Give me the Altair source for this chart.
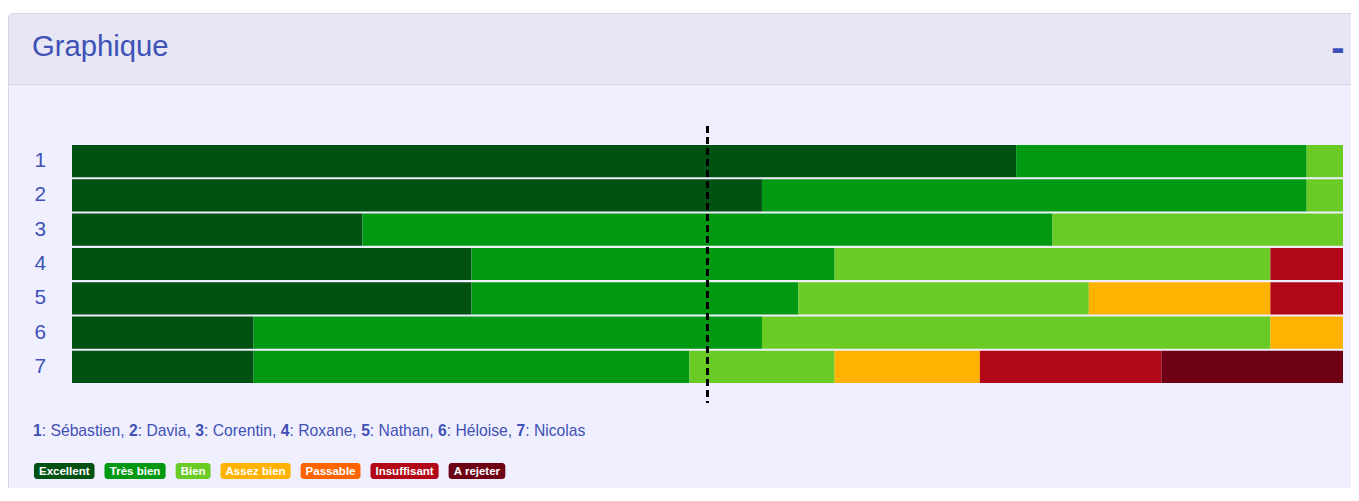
import altair as alt
import pandas as pd

# ---------------- data ----------------
candidates = ["Sébastien", "Davia", "Corentin", "Roxane", "Nathan", "Héloise", "Nicolas"]
grades = ["Excellent", "Très bien", "Bien", "Assez bien", "Passable", "Insuffisant", "A rejeter"]
grade_colors = ["#015113", "#019812", "#6ACB25", "#FFB200", "#FF6400", "#B20717", "#6E0214"]

excellent = [26, 19, 8, 11, 11, 5, 5]
tres_bien = [8, 15, 19, 10, 9, 14, 12]
bien = [1, 1, 8, 12, 8, 14, 4]
assez_bien = [0, 0, 0, 0, 5, 2, 4]
passable = [0, 0, 0, 0, 0, 0, 0]
insuffisant = [0, 0, 0, 2, 2, 0, 5]
a_rejeter = [0, 0, 0, 0, 0, 0, 5]
series = [excellent, tres_bien, bien, assez_bien, passable, insuffisant, a_rejeter]

rows = []
for gi, (g, vals) in enumerate(zip(grades, series)):
    for ci, v in enumerate(vals):
        rows.append({"num": str(ci + 1), "candidat": candidates[ci], "mention": g, "ordre": gi, "votes": v})
df = pd.DataFrame(rows)
total = int(df.groupby("num")["votes"].sum().max())
nums = [str(i + 1) for i in range(len(candidates))]

# ---------------- layout ----------------
FONT = "Liberation Sans"
BLUE = "#3F51B5"
BODY_BG = "#EFEFFF"
HEAD_BG = "#E6E6F5"
BORDER = "#D2D2E2"
PLOT_W, PLOT_H = 1271, 240
PAD_L, PAD_T = 64, 136
TOTAL_W, TOTAL_H = 1343, 480


def px(x):
    return x - 8 - PAD_L


def py(y):
    return y - 8 - PAD_T


REG = {' ': 278, ',': 278, ':': 278, 'S': 667, 'D': 722, 'C': 722, 'R': 722, 'N': 722, 'H': 722,
       'a': 556, 'b': 556, 'c': 500, 'e': 556, 'é': 556, 'h': 556, 'i': 222, 'l': 222, 'n': 556,
       'o': 556, 'r': 333, 's': 500, 't': 278, 'v': 500, 'x': 500}
BOLD = {' ': 278, 'A': 722, 'B': 722, 'E': 667, 'I': 278, 'P': 667, 'T': 611, 'a': 556, 'b': 611,
        'c': 556, 'e': 556, 'è': 556, 'f': 333, 'i': 278, 'j': 278, 'l': 278, 'n': 611, 'r': 389,
        's': 556, 't': 333, 'u': 611, 'x': 556, 'z': 500}


def tw(s, size, table):
    return sum(table.get(ch, 556) for ch in s) * size / 1000.0


one = pd.DataFrame({"k": [0]})


def vrect(x0, x1, y0, y1, **kw):
    return alt.Chart(one).mark_rect(**kw).encode(
        x=alt.value(x0), x2=alt.value(x1), y=alt.value(y0), y2=alt.value(y1))


def vtext(txt, x, y, **kw):
    return alt.Chart(one).mark_text(text=txt, font=FONT, **kw).encode(x=alt.value(x), y=alt.value(y))


layers = []
# panel
layers.append(vrect(px(8.5), px(1380), py(13.5), py(560), fill=BODY_BG, stroke=BORDER, strokeWidth=1, cornerRadius=4))
layers.append(vrect(px(9), px(1380), py(14), py(84), fill=HEAD_BG, cornerRadiusTopLeft=3))
layers.append(alt.Chart(one).mark_rule(color=BORDER, strokeWidth=1).encode(
    x=alt.value(px(9)), x2=alt.value(px(1380)), y=alt.value(py(84.5))))
layers.append(vtext("Graphique", px(32), py(56), fontSize=29.25, color=BLUE, align="left", baseline="alphabetic"))
layers.append(vtext("-", px(1338), py(61), fontSize=40, fontWeight="bold", color=BLUE, align="center", baseline="alphabetic"))

# bars
xscale = alt.Scale(domain=[0, total], nice=False)
bars = alt.Chart(df).mark_bar().encode(
    y=alt.Y("num:O", sort=nums, title=None,
            scale=alt.Scale(paddingInner=0.06, paddingOuter=0.03),
            axis=alt.Axis(domain=False, ticks=False, tickSize=0, grid=False, labelPadding=26.5,
                          labelFontSize=20.8, labelColor=BLUE, labelFont=FONT, labelAlign="right",
                          labelBaseline="middle", zindex=2)),
    x=alt.X("votes:Q", stack="zero", scale=xscale, axis=None),
    color=alt.Color("mention:N", scale=alt.Scale(domain=grades, range=grade_colors), legend=None),
    order=alt.Order("ordre:Q", sort="ascending"),
    tooltip=["candidat:N", "mention:N", "votes:Q"],
)
layers.append(bars)

# median line
med = pd.DataFrame({"mediane": [total / 2]})
layers.append(alt.Chart(med).mark_rule(color="black", strokeWidth=3, strokeDash=[7, 4]).encode(
    x=alt.X("mediane:Q", scale=xscale, axis=None), y=alt.value(py(126)), y2=alt.value(py(403))))

# names line
NAME_SIZE = 15.7
x = 33.0
for i, name in enumerate(candidates):
    n = str(i + 1)
    layers.append(vtext(n, px(x), py(436), fontSize=NAME_SIZE, fontWeight="bold", color=BLUE,
                        align="left", baseline="alphabetic"))
    x += tw(n, NAME_SIZE, BOLD)
    rest = ": " + name + (", " if i < len(candidates) - 1 else "")
    layers.append(vtext(rest, px(x), py(436), fontSize=NAME_SIZE, color=BLUE, align="left", baseline="alphabetic"))
    x += tw(rest, NAME_SIZE, REG)

# badges
BADGE_SIZE = 11.5
BPAD = 5
x = 34.0
for g, c in zip(grades, grade_colors):
    w = tw(g, BADGE_SIZE, BOLD) + 2 * BPAD
    layers.append(vrect(px(x), px(x + w), py(463), py(479), fill=c, cornerRadius=3))
    layers.append(vtext(g, px(x + w / 2), py(475), fontSize=BADGE_SIZE, fontWeight="bold", color="white",
                        align="center", baseline="alphabetic"))
    x += w + 10

chart = alt.layer(*layers).properties(
    width=PLOT_W, height=PLOT_H,
    autosize=alt.AutoSizeParams(type="none"),
    padding={"left": PAD_L, "top": PAD_T, "right": TOTAL_W - PAD_L - PLOT_W, "bottom": TOTAL_H - PAD_T - PLOT_H},
    background="#ffffff",
).configure_view(stroke=None)

chart.save("out.html", embed_options={"renderer": "svg", "actions": False})
